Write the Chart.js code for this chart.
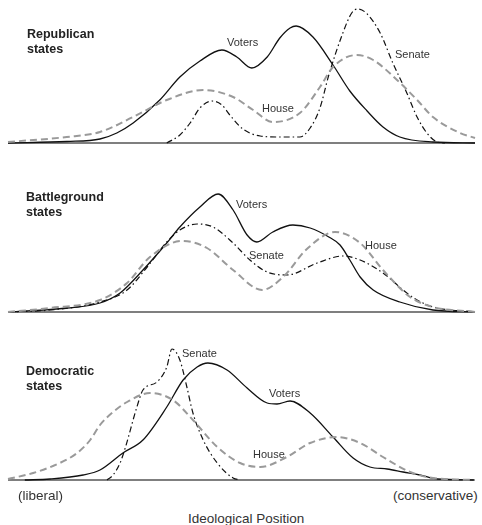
<!DOCTYPE html>
<html>
<head>
<meta charset="utf-8">
<script src="https://cdn.jsdelivr.net/npm/chart.js@4.4.0/dist/chart.umd.min.js"></script>
<style>
  html, body { margin: 0; padding: 0; background: #fff; }
  #wrap { position: relative; width: 482px; height: 525px; overflow: hidden; font-family: "Liberation Sans", Arial, Helvetica, sans-serif; }
  canvas { position: absolute; left: 0; }
  .t { position: absolute; white-space: nowrap; color: #222; }
  .title { font-size: 12.5px; font-weight: bold; line-height: 15px; color: #222; }
  .lab { font-size: 11px; line-height: 11px; color: #333; }
  .ax { font-size: 13.5px; line-height: 13.5px; color: #333; }
</style>
</head>
<body>
<div id="wrap">
  <canvas id="c1" width="482" height="150" style="top:0px"></canvas>
  <canvas id="c2" width="482" height="150" style="top:165px"></canvas>
  <canvas id="c3" width="482" height="150" style="top:333px"></canvas>

  <div class="t title" style="left:27px;top:27px">Republican<br>states</div>
  <div class="t lab" style="left:227px;top:37px">Voters</div>
  <div class="t lab" style="left:395px;top:48.6px">Senate</div>
  <div class="t lab" style="left:262px;top:102.6px">House</div>

  <div class="t title" style="left:26px;top:190px">Battleground<br>states</div>
  <div class="t lab" style="left:236px;top:199.3px">Voters</div>
  <div class="t lab" style="left:249px;top:250.3px">Senate</div>
  <div class="t lab" style="left:365px;top:240.3px">House</div>

  <div class="t title" style="left:26px;top:364px">Democratic<br>states</div>
  <div class="t lab" style="left:182px;top:348px">Senate</div>
  <div class="t lab" style="left:269px;top:388px">Voters</div>
  <div class="t lab" style="left:253px;top:448.6px">House</div>

  <div class="t ax" style="left:18px;top:489px">(liberal)</div>
  <div class="t ax" style="left:393px;top:489px">(conservative)</div>
  <div class="t ax" style="left:188px;top:511.5px">Ideological Position</div>
</div>
<script>
// ---- Data: ideological position (0 = liberal, 100 = conservative) and density (arbitrary units) ----
// Republican states
const repVotersX = [0,12.6,19.7,23.3,26.8,32.5,36.8,41.1,45.8,49.0,52.2,55.5,58.2,60.4,61.7,65.3,69.6,73.2,76.9,80.3,83.9,91.0,100];
const repVotersY = [0,1.5,4,10,20,43,66,82,93,86,75,86,105,115,117,106,78,52,32,16,6,1,0];
const repHouseX = [0,12.6,19.7,26.8,34.0,41.8,48.2,52.5,56.7,62.5,66.8,69.6,74.7,78.2,83.3,87.6,91.0,96.8,100];
const repHouseY = [1,6,11,26,43,53,46,33,21,30,56,76,88,83,63,43,26,10,5];
const repSenateX = [34.0,36.8,39.0,41.1,43.7,45.8,47.5,50.3,54.0,58.2,62.5,64.7,66.8,68.7,71.7,73.6,74.9,76.7,79.7,82.4,85.4,87.6,89.7,91.9,93.6];
const repSenateY = [0,8,20,35,42,38,28,14,7,6,6,15,35,68,110,130,134,130,110,80,50,26,10,1,0];

// Battleground states
const bgVotersX = [0,12.6,19.7,24.0,28.9,34.0,36.8,41.1,45.0,48.2,51.2,53.3,56.7,61.0,64.7,68.7,71.1,73.2,75.4,78.2,83.9,91.0,100];
const bgVotersY = [0,4,9,19,42,69,85,105,118,102,77,70,80,87,84,75,67,52,35,22,10,2,0];
const bgSenateX = [0,9.0,19.7,25.5,29.8,34.0,36.8,40.5,43.9,48.2,51.8,55.5,59.7,66.2,71.7,75.4,80.3,85.4,87.6,91.0,100];
const bgSenateY = [0,2,10,22,45,70,82,88,85,69,52,40,37,49,56,52,39,19,12,5,0];
const bgHouseX = [0,9.0,19.7,25.5,30.4,37.3,42.6,48.2,54.4,58.9,64.0,70.0,75.4,80.3,86.1,91.0,100];
const bgHouseY = [0,4,12,29,55,71,64,42,22,35,63,80,69,42,15,5,0];

// Democratic states
const demVotersX = [3.6,9.0,16.1,19.7,24.6,28.9,34.0,37.5,40.5,42.8,46.9,51.2,55.5,57.6,60.4,64.7,69.6,73.9,77.5,81.2,84.6,88.2,91.9,100];
const demVotersY = [0,1,5,10,27,40,73,100,113,117,110,92,77,76,79,67,43,22,13,11,8,5,1,0];
const demHouseX = [0,5.4,11.1,14.8,17.6,19.7,22.5,25.5,30.4,35.3,39.6,44.8,49.7,54.0,59.7,64.7,70.4,75.4,80.3,86.1,91.0,100];
const demHouseY = [1,7,17,27,40,55,68,78,87,80,60,33,17,13,23,37,43,37,23,8,2,0];
const demSenateX = [21.2,22.5,24.0,25.1,27.6,28.9,31.9,34.0,35.1,36.8,38.3,39.6,41.8,44.8,48.2,49.7];
const demSenateY = [0,5,17,32,73,90,98,113,131,120,93,67,40,17,2,0];

const xMin = 0, xMax = 100, yMax = 140;

function pts(xs, ys) { return xs.map((x, i) => ({ x: x, y: ys[i] })); }

const baselinePlugin = {
  id: 'baseline',
  beforeDatasetsDraw(chart) {
    const ctx = chart.ctx, a = chart.chartArea;
    const y = chart.scales.y.getPixelForValue(0);
    ctx.save();
    ctx.strokeStyle = '#555';
    ctx.lineWidth = 1.3;
    ctx.beginPath();
    ctx.moveTo(a.left, y);
    ctx.lineTo(a.right, y);
    ctx.stroke();
    ctx.restore();
  }
};

function makeChart(id, voters, house, senate, padTop, padBottom) {
  const dsBase = { pointRadius: 0, fill: false, cubicInterpolationMode: 'monotone', clip: false };
  new Chart(document.getElementById(id), {
    type: 'line',
    data: {
      datasets: [
        Object.assign({ label: 'House', data: house, borderColor: '#9a9a9a', borderWidth: 2, borderDash: [7, 4] }, dsBase),
        Object.assign({ label: 'Senate', data: senate, borderColor: '#111', borderWidth: 1.2, borderDash: [6, 3, 1.5, 3] }, dsBase),
        Object.assign({ label: 'Voters', data: voters, borderColor: '#111', borderWidth: 1.3 }, dsBase)
      ]
    },
    options: {
      responsive: false,
      animation: false,
      devicePixelRatio: 1,
      layout: { padding: { left: 8, right: 7, top: padTop, bottom: padBottom } },
      plugins: { legend: { display: false }, tooltip: { enabled: false } },
      scales: {
        x: { type: 'linear', min: xMin, max: xMax, display: false },
        y: { type: 'linear', min: 0, max: yMax, display: false }
      }
    },
    plugins: [baselinePlugin]
  });
}

makeChart('c1', pts(repVotersX, repVotersY), pts(repHouseX, repHouseY), pts(repSenateX, repSenateY), 3, 7);
makeChart('c2', pts(bgVotersX, bgVotersY), pts(bgHouseX, bgHouseY), pts(bgSenateX, bgSenateY), 7, 3);
makeChart('c3', pts(demVotersX, demVotersY), pts(demHouseX, demHouseY), pts(demSenateX, demSenateY), 7, 3);
</script>
</body>
</html>
